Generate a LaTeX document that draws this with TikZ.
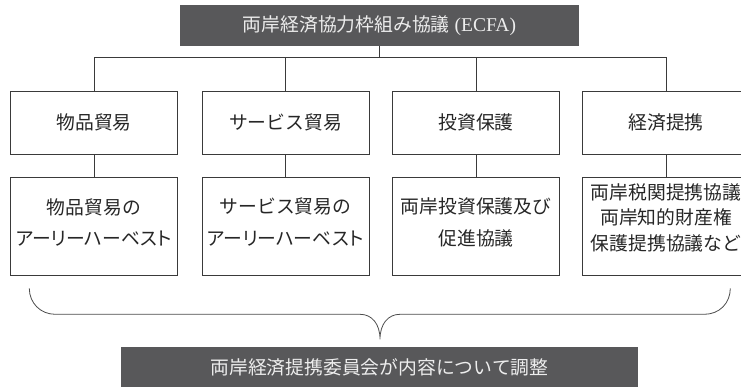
\documentclass[tikz,border=0pt]{standalone}
\usepackage{fontspec}
\setmainfont{Liberation Serif}
\newfontfamily\cjk{Noto Sans CJK JP}
\newfontfamily\cjkp[RawFeature=+palt]{Noto Sans CJK JP}
\definecolor{darkbox}{HTML}{58585A}
\definecolor{linec}{HTML}{3A3A3A}
\begin{document}
\begin{tikzpicture}[x=1pt,y=-1pt,
  box/.style={draw=linec, line width=0.9pt, inner sep=0pt, text=black!85,
    font=\cjk\fontsize{18.8}{22}\selectfont, align=center},
  toprow/.style={box, minimum width=167pt, minimum height=62.3pt},
  botrow/.style={draw=linec, line width=0.9pt, minimum width=167pt, minimum height=98pt},
  btext/.style={inner sep=0pt, text=black!85, align=center,
    font=\cjk\fontsize{18.8}{31.6}\selectfont},
  darkbox/.style={fill=darkbox, draw=none, inner sep=0pt, text=white!93!black,
    font=\fontsize{19.5}{22}\selectfont},
  conn/.style={draw=linec, line width=0.8pt},
  brace/.style={draw=black!70, line width=0.8pt}]
\useasboundingbox (0,0) rectangle (741,386);
\clip (0,0) rectangle (741,386);

% title
\node[darkbox, minimum width=399pt, minimum height=40.7pt] (title) at (379.5,25.35)
  {{\cjk\fontsize{18.8}{22}\selectfont 両岸経済協力枠組み協議} (ECFA)};

% top row
\node[toprow] (a1) at (94,122.85) {物品貿易};
\node[toprow] (a2) at (285.5,122.85) {サービス貿易};
\node[toprow] (a3) at (476,122.85) {投資保護};
\node[toprow] (a4) at (666,122.85) {経済提携};

% bottom row boxes
\node[botrow] (b1) at (94,226.7) {};
\node[botrow] (b2) at (285.5,226.7) {};
\node[botrow] (b3) at (476,226.7) {};
\node[botrow] (b4) at (666,226.7) {};
% bottom row texts
\node[btext] (t1) at (94,222.3) {物品貿易の\\{\cjkp アーリーハーベスト}};
\node[btext] (t2) at (285.5,222.3) {サービス貿易の\\{\cjkp アーリーハーベスト}};
\node[btext] (t3) at (476,222.3) {両岸投資保護及び\\促進協議};
\node[btext, font=\cjk\fontsize{18.8}{25.5}\selectfont] (t4) at (666,217.8) {両岸税関提携協議\\両岸知的財産権\\保護提携協議など};

% bottom dark box
\node[darkbox, minimum width=517pt, minimum height=44pt, font=\cjk\fontsize{18.8}{22}\selectfont] (coord) at (379.5,368.7)
  {\raisebox{5pt}{両岸経済提携委員会が内容について調整}};

% connectors
\coordinate (jl) at (94,57.3);
\draw[conn] (title.south) -- (title.south |- jl);
\draw[conn] (a1.north) -- (a1.north |- jl) -- (a4.north |- jl) -- (a4.north);
\draw[conn] (a2.north) -- (a2.north |- jl);
\draw[conn] (a3.north) -- (a3.north |- jl);
\draw[conn] (a1.south) -- (b1.north);
\draw[conn] (a2.south) -- (b2.north);
\draw[conn] (a3.south) -- (b3.north);
\draw[conn] (a4.south) -- (b4.north);

% brace
\coordinate (bl) at (29.3,288.3);
\coordinate (br) at (730.3,288.3);
\coordinate (tip) at (380,339.3);
\draw[brace] (bl) .. controls (29.3,303) and (40.5,314.3) .. (55.3,314.3)
  -- (360,314.3) .. controls (372,314.3) and (380,324) .. (tip)
  .. controls (380,324) and (388,314.3) .. (400,314.3)
  -- (704.3,314.3) .. controls (719.5,314.3) and (730.3,303) .. (br);
\end{tikzpicture}
\end{document}
